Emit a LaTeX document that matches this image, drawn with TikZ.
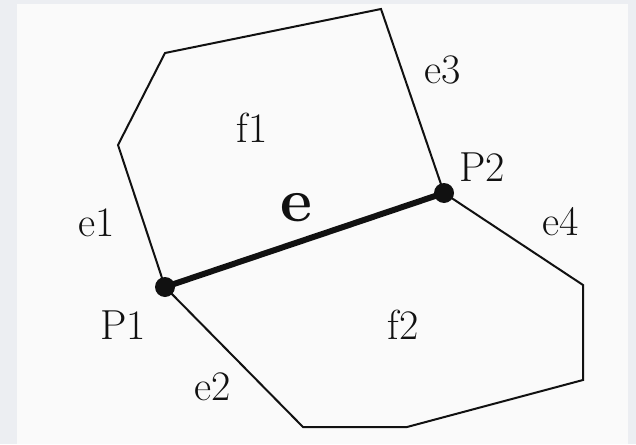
\documentclass[tikz,border=0pt]{standalone}
\usepackage{xcolor}
\usepackage{tikz}
\usetikzlibrary{positioning,calc}
\definecolor{Frame}{HTML}{ECEEF2}
\definecolor{Paper}{HTML}{FAFAFA}
\definecolor{Ink}{HTML}{111111}
\tikzset{
  outline/.style={draw=Ink,line width=1pt,line join=miter},
  mainedge/.style={draw=Ink,line width=3pt,line cap=round},
  vert/.style={circle,fill=Ink,inner sep=0pt,minimum size=10pt},
  tag/.style={font=\fontsize{21pt}{24pt}\selectfont,text=Ink,inner sep=0pt},
  bigtag/.style={font=\fontsize{31pt}{34pt}\selectfont\bfseries,text=Ink,inner sep=0pt}
}

\begin{document}
\begin{tikzpicture}[x=0.5pt,y=-0.5pt]
  % sheet
  \fill[Frame] (0,0) rectangle (636,444);
  \fill[Paper] (17,4) rectangle (628,444);
  \useasboundingbox (0,0) rectangle (636,444);
  % points of the two faces
  \coordinate (P1) at (165,287);
  \coordinate (P2) at (444,193);
  \coordinate (left) at (118,145);
  \coordinate (topl) at (165,53);
  \coordinate (topr) at (381,9);
  \coordinate (rup) at (583,285);
  \coordinate (rlow) at (583,380);
  \coordinate (botr) at (407,427);
  \coordinate (botl) at (303,427);
  % face f1
  \draw[outline] (P1) -- (left) -- (topl) -- (topr) -- (P2);
  % face f2
  \draw[outline] (P2) -- (rup) -- (rlow) -- (botr) -- (botl) -- (P1);
  % shared edge
  \draw[mainedge] (P1) -- (P2);
  \node[vert] (v1) at (P1) {};
  \node[vert] (v2) at (P2) {};
  % labels
  \node[tag] (f1) at (252,128) {f1};
  \node[tag] (f2) at (403,325) {f2};
  \node[tag] (e1) at (97,223) {e1};
  \node[tag] (e2) at (213,387) {e2};
  \node[tag] (e3) at (443,70) {e3};
  \node[tag] (e4) at (561,222) {e4};
  \node[tag] (p1) at (123,325) {P1};
  \node[tag] (p2) at (482,167) {P2};
  \node[bigtag] (e) at (296,208) {e};
\end{tikzpicture}
\end{document}
